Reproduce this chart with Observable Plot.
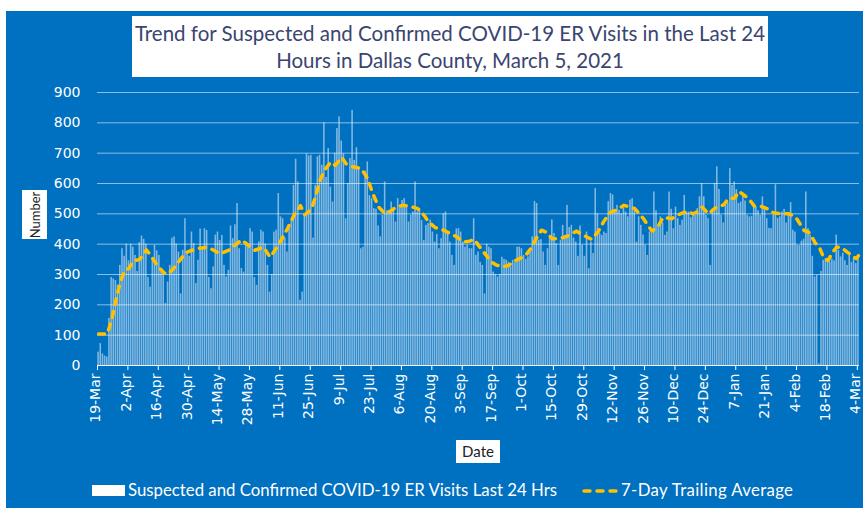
<!DOCTYPE html>
<html><head><meta charset="utf-8">
<script src="https://cdn.jsdelivr.net/npm/d3@7"></script>
<script src="https://cdn.jsdelivr.net/npm/@observablehq/plot@0.6"></script>
<style>
html,body{margin:0;padding:0;background:#fff;}
#wrap{position:relative;width:863px;height:508px;overflow:hidden;background:#fff;}
#panel{position:absolute;left:6px;top:11px;width:857px;height:497px;background:#0070C0;}
#chart{position:absolute;left:0;top:0;}
.box{position:absolute;background:#fff;color:#3A4570;font-family:Lato,"Open Sans",sans-serif;text-align:center;white-space:nowrap;}
#title{left:132px;top:16px;width:636px;height:61px;font-size:20.5px;line-height:27px;padding-top:4px;box-sizing:border-box;}
#ylab{left:22px;top:190px;width:25px;height:49px;}
#ylab span{position:absolute;left:50%;top:50%;transform:translate(-50%,-50%) rotate(-90deg);font-size:13px;color:#222;}
#xlab{left:456px;top:440px;width:44px;height:23px;font-size:15px;line-height:23px;color:#222;}
#legend{position:absolute;left:92px;top:479px;height:20px;font-family:Lato,"Open Sans",sans-serif;font-size:16.8px;color:#fff;white-space:nowrap;}
#legend .sw{display:inline-block;width:33px;height:11px;background:#fff;vertical-align:middle;margin-right:3px;position:relative;top:-1px;}
#legend svg{vertical-align:middle;margin-left:24px;margin-right:2px;position:relative;top:-1px;}
#legend .t2{letter-spacing:0.35px;}
</style>
</head><body>
<div id="wrap">
  <div id="panel"></div>
  <div id="chart"></div>
  <div class="box" id="title">Trend for Suspected and Confirmed COVID-19 ER Visits in the Last 24<br>Hours in Dallas County, March 5, 2021</div>
  <div class="box" id="ylab"><span>Number</span></div>
  <div class="box" id="xlab">Date</div>
  <div id="legend"><span class="sw"></span>Suspected and Confirmed COVID-19 ER Visits Last 24 Hrs<svg width="38" height="8"><line x1="3" y1="4" x2="36" y2="4" stroke="#FFC000" stroke-width="3.5" stroke-dasharray="6,7" stroke-linecap="round"/></svg><span class="t2">7-Day Trailing Average</span></div>
</div>
<script>
// First date of the series (one bar per day)
const startDate = "2020-03-19";

// Daily ER visits (Suspected and Confirmed COVID-19, last 24 hrs), 19-Mar-2020 .. 4-Mar-2021
const visits = [
  44,72,38,31,28,155,290,285,280,265,330,385,360,400,345,400,390,363,310,405,427,416,400,290,258,352,396,378,363,308,300,205,275,330,420,424,400,374,236,380,484,368,
  360,440,402,270,347,450,391,451,445,290,253,325,430,440,412,429,330,292,314,460,418,464,534,385,320,308,407,402,451,440,290,264,407,446,440,400,330,242,300,440,446,567,490,484,
  420,374,451,476,594,680,605,215,242,500,698,691,693,420,594,688,693,660,800,620,715,588,539,700,781,820,740,698,484,600,682,841,676,718,649,385,390,640,671,560,550,517,515,460,
  424,495,605,510,511,539,520,473,550,520,544,550,525,473,495,506,605,506,517,478,412,462,468,479,440,407,432,385,418,500,506,440,407,363,330,450,451,440,407,390,396,385,385,484,
  363,374,340,330,236,400,390,385,308,300,292,300,357,350,347,340,325,347,340,390,390,385,363,350,358,374,424,541,534,413,415,374,330,385,429,480,435,402,330,413,462,429,528,
  455,462,420,407,360,460,396,360,440,319,407,369,583,500,435,429,440,435,540,567,562,506,528,512,500,519,506,490,545,550,520,407,490,462,430,396,363,440,435,572,510,462,490,470,
  429,440,572,515,451,522,484,462,479,561,505,506,487,501,495,517,556,600,556,495,484,330,517,600,655,580,495,470,528,537,649,594,605,580,534,539,561,542,495,490,492,534,523,510,
  495,556,520,484,452,451,495,596,485,490,506,515,470,500,537,446,440,396,395,410,416,572,451,429,360,292,297,5,310,347,352,350,341,350,345,430,380,358,370,345,330,363,340,352,336,360
];

// 7-day trailing average, read at these day offsets from startDate
const avgDays = [0,4,6,8,10,12,14,16,19,22,24,27,30,32,35,38,40,45,50,53,56,60,63,66,69,72,76,79,83,85,87,90,93,95,98,100,102,104,107,109,112,114,117,121,124,126,129,130,132,135,137,140,143,147,150,152,155,159,162,165,168,171,173,175,178,181,183,186,189,191,194,197,199,202,204,206,209,212,215,217,220,223,227,230,233,236,238,242,245,247,249,251,253,255,258,260,264,267,271,274,276,278,281,284,288,290,293,295,298,300,302,305,308,311,315,318,321,323,325,327,329,330,332,334,336,338,340,342,345,347,349,350];
const avgValues = [104,104,150,215,275,313,320,345,350,381,363,330,306,301,324,352,372,385,390,380,368,380,398,414,396,380,390,357,398,425,451,495,527,497,515,558,610,643,671,660,686,665,655,649,616,572,522,515,500,511,522,528,526,517,495,473,455,446,435,424,407,410,416,396,368,341,332,325,330,343,352,365,385,424,446,440,418,418,424,430,443,431,416,440,478,506,511,528,522,517,500,484,462,443,462,488,484,497,508,500,508,522,500,519,530,550,552,574,558,545,526,525,517,503,500,500,490,468,445,440,418,405,390,356,346,372,390,390,373,363,352,362];

// Axis ticks
const yTicks = [0,100,200,300,400,500,600,700,800,900];
const xTickLabels = ["19-Mar","2-Apr","16-Apr","30-Apr","14-May","28-May","11-Jun","25-Jun","9-Jul","23-Jul","6-Aug","20-Aug","3-Sep","17-Sep","1-Oct","15-Oct","29-Oct","12-Nov","26-Nov","10-Dec","24-Dec","7-Jan","21-Jan","4-Feb","18-Feb","4-Mar"];
const xTickStep = 14; // days between labelled ticks

const DAY = 864e5;
const t0 = new Date(startDate + "T00:00:00Z").getTime();
const bars = visits.map((v, i) => ({start: new Date(t0 + i * DAY), end: new Date(t0 + (i + 1) * DAY), v}));
const avg = avgDays.map((d, i) => ({date: new Date(t0 + (d + 0.5) * DAY), v: avgValues[i]}));
const tickDates = xTickLabels.map((_, i) => new Date(t0 + i * xTickStep * DAY));
const labelByTime = new Map(tickDates.map((d, i) => [+d, xTickLabels[i]]));

const chart = Plot.plot({
  width: 863,
  height: 440,
  marginLeft: 97,
  marginRight: 4,
  marginTop: 92,
  marginBottom: 75,
  style: {background: "transparent", color: "white", fontFamily: "'DejaVu Sans', sans-serif", fontSize: "14px", overflow: "visible"},
  x: {type: "utc", domain: [new Date(t0), new Date(t0 + visits.length * DAY)], label: null},
  y: {domain: [0, 900], label: null},
  marks: [
    Plot.gridY(yTicks, {stroke: "white", strokeOpacity: 0.55}),
    Plot.rectY(bars, {x1: "start", x2: "end", y: "v", fill: "white", fillOpacity: 0.5, insetLeft: 0.3, insetRight: 0.3}),
    Plot.ruleY([0], {stroke: "white", strokeOpacity: 0.85}),
    Plot.axisY(yTicks, {tickSize: 0, tickPadding: 17, fill: "white", fontSize: 14, label: null}),
    Plot.axisX(tickDates, {tickRotate: -90, tickSize: 5, tickPadding: 3, text: null, stroke: "white", label: null}),
    Plot.axisX(tickDates, {tickRotate: -90, tickSize: 5, tickPadding: 3, tickFormat: d => labelByTime.get(+d), fill: "white", strokeOpacity: 0, fontSize: 14, dx: -1.5, label: null}),
    Plot.line(avg, {x: "date", y: "v", stroke: "#FFC000", strokeWidth: 3.5, strokeDasharray: "6,7", strokeLinecap: "round", strokeLinejoin: "round"})
  ]
});
document.getElementById("chart").appendChild(chart);
</script>
</body></html>
